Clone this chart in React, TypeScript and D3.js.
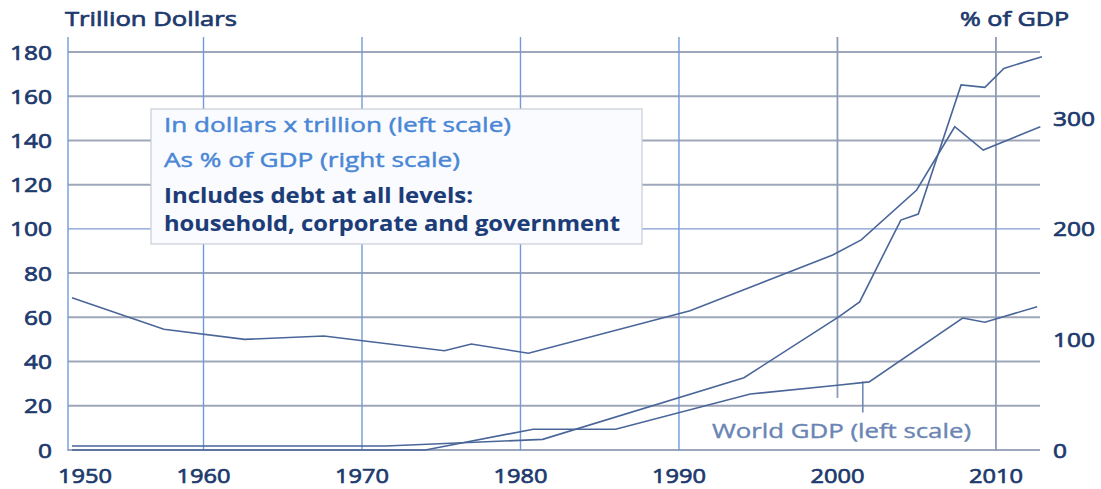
import React from "react";
import * as d3 from "d3";

// ---- Data ----
const yearTicks = [1950, 1960, 1970, 1980, 1990, 2000, 2010];
const leftTicks = [0, 20, 40, 60, 80, 100, 120, 140, 160, 180];
const rightTicks = [0, 100, 200, 300];

// Total debt in trillion dollars (left scale)
const debtYears = [1951.7, 1971.5, 1981.4, 1994.1, 2000.1, 2001.4, 2004.0, 2005.1, 2007.8, 2009.3, 2010.5, 2012.9];
const debtValues = [1.8, 1.8, 4.8, 32.7, 60.3, 67.0, 104.0, 106.7, 165.1, 164.0, 172.6, 177.9];

// Debt as % of GDP (right scale)
const pctYears = [1951.7, 1957.5, 1962.6, 1967.6, 1975.2, 1976.9, 1980.5, 1990.7, 1999.7, 2001.5, 2005.0, 2007.4, 2009.2, 2012.8];
const pctValues = [137.8, 109.2, 100.1, 103.1, 89.8, 95.9, 87.5, 126.0, 176.4, 190.0, 235.2, 292.4, 271.3, 292.4];

// World GDP in trillion dollars (left scale)
const gdpYears = [1951.7, 1974.0, 1980.8, 1986.0, 1994.5, 2000.0, 2002.0, 2007.9, 2009.3, 2012.6];
const gdpValues = [0, 0, 9.4, 9.4, 25.3, 29.3, 30.8, 59.7, 57.8, 64.8];

const legendLines = [
  "In dollars x trillion (left scale)",
  "As % of GDP (right scale)",
  "Includes debt at all levels:",
  "household, corporate and government",
];
const gdpLabel = "World GDP (left scale)";
const leftTitle = "Trillion Dollars";
const rightTitle = "% of GDP";

// ---- Layout ----
const W = 1101;
const H = 489;
const x0 = 68;
const x1 = 1040;
const yTop = 52;
const yBottom = 450;

const FONT = "'Open Sans', 'DejaVu Sans', sans-serif";
const NAVY = "#1d3a6e";
const LINE = "#4a6699";

export default function App() {
  const x = d3.scaleLinear().domain([1951.45, 2012.78]).range([x0, x1]);
  const yL = d3.scaleLinear().domain([0, 180]).range([yBottom, yTop]);
  const yR = d3.scaleLinear().domain([0, 360]).range([yBottom, yTop]);

  const lineL = d3
    .line<[number, number]>()
    .x((d) => x(d[0]))
    .y((d) => yL(d[1]));
  const lineR = d3
    .line<[number, number]>()
    .x((d) => x(d[0]))
    .y((d) => yR(d[1]));

  const debtPts = debtYears.map((yr, i) => [yr, debtValues[i]] as [number, number]);
  const pctPts = pctYears.map((yr, i) => [yr, pctValues[i]] as [number, number]);
  const gdpPts = gdpYears.map((yr, i) => [yr, gdpValues[i]] as [number, number]);

  const legendWidths = [347, 296, 309, 456];
  const legendBaselines = [132, 167, 203, 230.5];

  const semi = { stroke: NAVY, strokeWidth: 0.7, paintOrder: "stroke" as const };

  return (
    <svg
      width={W}
      height={H}
      style={{ position: "fixed", left: 0, top: 0, background: "#ffffff" }}
      fontFamily={FONT}
    >
      {/* horizontal gridlines */}
      {leftTicks.map((t) => (
        <line
          key={"h" + t}
          x1={x0}
          x2={x1}
          y1={yL(t)}
          y2={yL(t)}
          stroke={t === 100 ? "#7f9dd2" : "#9ea7b9"}
          strokeWidth={t === 100 ? 1.3 : 2}
        />
      ))}
      {/* vertical gridlines */}
      {yearTicks.map((yr) => {
        const xx = yr === 1950 ? x0 : x(yr);
        const blue = yr <= 1990;
        return (
          <line
            key={"v" + yr}
            x1={xx}
            x2={xx}
            y1={37}
            y2={yr === 2000 ? yL(23.5) : yBottom + 1}
            stroke={blue ? "#729ad9" : "#8e9bb5"}
            strokeWidth={blue ? 1.4 : 1.8}
          />
        );
      })}
      {/* pointer for GDP label */}
      <line x1={x(2001.6)} x2={x(2001.6)} y1={yL(31)} y2={yL(17)} stroke="#6a85b4" strokeWidth={1.5} />

      {/* series */}
      <path d={lineL(gdpPts) || ""} fill="none" stroke={LINE} strokeWidth={1.6} />
      <path d={lineL(debtPts) || ""} fill="none" stroke={LINE} strokeWidth={1.6} />
      <path d={lineR(pctPts) || ""} fill="none" stroke={LINE} strokeWidth={1.6} />

      {/* legend box */}
      <rect x={151} y={109} width={491} height={135} fill="#f9fbfe" stroke="#c8cdd6" strokeWidth={1.2} />
      {legendLines.map((s, i) => {
        const col = i < 2 ? "#4a86d6" : "#1c3c78";
        return (
          <text
            key={"lg" + i}
            x={164}
            y={legendBaselines[i]}
            fontSize={20.5}
            fontWeight={i < 2 ? 400 : 700}
            fill={col}
            stroke={col}
            strokeWidth={i < 2 ? 0.45 : 0.1}
            textLength={legendWidths[i]}
            lengthAdjust="spacingAndGlyphs"
          >
            {s}
          </text>
        );
      })}

      {/* GDP label */}
      <text
        x={712}
        y={438}
        fontSize={20.5}
        fill="#6a85b4"
        stroke="#6a85b4"
        strokeWidth={0.4}
        textLength={259}
        lengthAdjust="spacingAndGlyphs"
      >
        {gdpLabel}
      </text>

      {/* axis titles */}
      <text x={65} y={26} fontSize={20.5} fill={NAVY} {...semi} textLength={172} lengthAdjust="spacingAndGlyphs">
        {leftTitle}
      </text>
      <text x={960} y={26} fontSize={20.5} fill={NAVY} {...semi} textLength={109} lengthAdjust="spacingAndGlyphs">
        {rightTitle}
      </text>

      {/* left tick labels */}
      {leftTicks.map((t) => (
        <text
          key={"lt" + t}
          x={52}
          y={yL(t) + 7.5}
          textAnchor="end"
          fontSize={20.5}
          fill={NAVY}
          {...semi}
          textLength={String(t).length * 14}
          lengthAdjust="spacingAndGlyphs"
        >
          {t}
        </text>
      ))}
      {/* right tick labels */}
      {rightTicks.map((t) => (
        <text
          key={"rt" + t}
          x={1053}
          y={yR(t) + 7.5}
          textAnchor="start"
          fontSize={20.5}
          fill={NAVY}
          {...semi}
          textLength={String(t).length * 14}
          lengthAdjust="spacingAndGlyphs"
        >
          {t}
        </text>
      ))}
      {/* x tick labels */}
      {yearTicks.map((yr) => (
        <text
          key={"xt" + yr}
          x={yr === 1950 ? x0 - 10 : x(yr)}
          y={483}
          textAnchor={yr === 1950 ? "start" : "middle"}
          fontSize={20.5}
          fill={NAVY}
          {...semi}
          textLength={54}
          lengthAdjust="spacingAndGlyphs"
        >
          {yr}
        </text>
      ))}
    </svg>
  );
}
